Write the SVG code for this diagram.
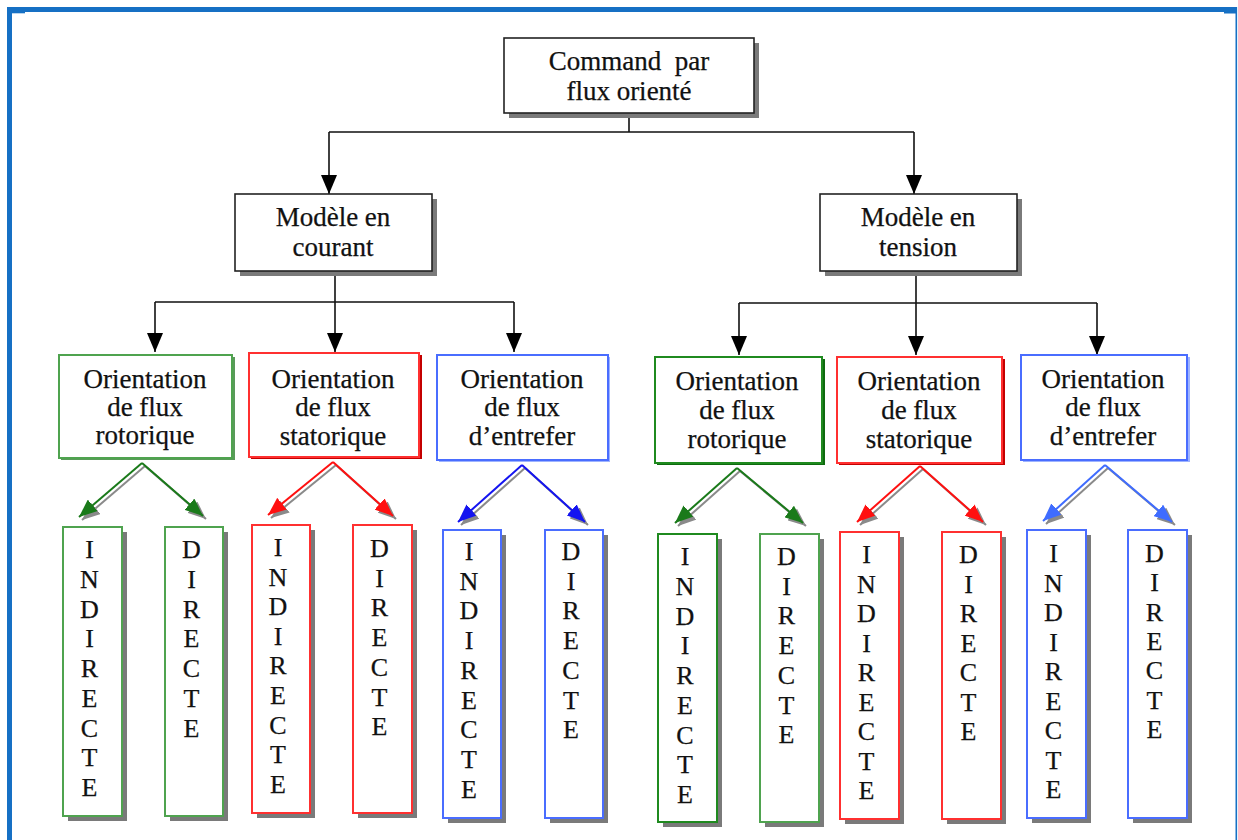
<svg xmlns="http://www.w3.org/2000/svg" width="1238" height="840" viewBox="0 0 1238 840">
  <style>
    .lbl { font-family: "Liberation Serif", "Times New Roman", serif; font-size: 27px; fill: #111; stroke: #111; stroke-width: 0.25; text-anchor: middle; white-space: pre; }
    .ltr { font-family: "Liberation Serif", "Times New Roman", serif; font-size: 26px; fill: #111; stroke: #111; stroke-width: 0.25; text-anchor: middle; }
    .box { fill: #fff; stroke: #222; stroke-width: 1.6; }
    .shadow { fill: #7a7a7a; }
    .tree { fill: none; stroke: #111; stroke-width: 1.6; }
    .g1 { fill: #fff; stroke: #4fa34f; stroke-width: 2; }
    .g2 { fill: #fff; stroke: #1f8a1f; stroke-width: 2; }
    .r { fill: #fff; stroke: #ff3030; stroke-width: 2; }
    .b { fill: #fff; stroke: #4a6dff; stroke-width: 2; }
    .sg1 { fill: #5a9a5a; }
    .sg2 { fill: #0f6a0f; }
    .sr { fill: #c40000; }
    .sb { fill: #9db3ff; }
  </style>
  <defs>
    <marker id="ah-black" markerUnits="userSpaceOnUse" markerWidth="19" markerHeight="16" refX="19" refY="8" orient="auto">
      <path d="M0,0 L19,8 L0,16 z" fill="#000"/>
    </marker>
    <marker id="ah-green" markerUnits="userSpaceOnUse" markerWidth="18" markerHeight="15" refX="18" refY="7.5" orient="auto">
      <path d="M0,0 L18,7.5 L0,15 z" fill="#1a7a1a"/>
    </marker>
    <marker id="ah-red" markerUnits="userSpaceOnUse" markerWidth="18" markerHeight="15" refX="18" refY="7.5" orient="auto">
      <path d="M0,0 L18,7.5 L0,15 z" fill="#ff1010"/>
    </marker>
    <marker id="ah-blue" markerUnits="userSpaceOnUse" markerWidth="18" markerHeight="15" refX="18" refY="7.5" orient="auto">
      <path d="M0,0 L18,7.5 L0,15 z" fill="#1414f0"/>
    </marker>
    <marker id="ah-blue2" markerUnits="userSpaceOnUse" markerWidth="18" markerHeight="15" refX="18" refY="7.5" orient="auto">
      <path d="M0,0 L18,7.5 L0,15 z" fill="#3f6cff"/>
    </marker>
    <marker id="ah-gray" markerUnits="userSpaceOnUse" markerWidth="18" markerHeight="15" refX="18" refY="7.5" orient="auto">
      <path d="M0,0 L18,7.5 L0,15 z" fill="#8a8a8a"/>
    </marker>
  </defs>

  <rect width="1238" height="840" fill="#fff"/>

  <!-- page frame -->
  <g id="frame" fill="#1670c4">
    <rect x="7" y="7" width="1230" height="5"/>
    <rect x="7" y="7" width="5" height="833"/>
    <rect x="1235.5" y="7" width="1.6" height="833"/>
    <rect x="12" y="12" width="13" height="1.3"/>
    <rect x="1224" y="12" width="12" height="1.5"/>
  </g>

  <!-- connectors -->
  <g id="connectors">
    <!-- black tree -->
    <g class="tree">
      <path d="M629,113 V132 M329,132 H914"/>
      <path d="M329,132 V194" marker-end="url(#ah-black)"/>
      <path d="M914,132 V194" marker-end="url(#ah-black)"/>
      <path d="M335,271 V302 M155,302 H514"/>
      <path d="M155,302 V352" marker-end="url(#ah-black)"/>
      <path d="M335,302 V352" marker-end="url(#ah-black)"/>
      <path d="M514,302 V352" marker-end="url(#ah-black)"/>
      <path d="M916,271 V303 M739,303 H1097"/>
      <path d="M739,303 V355" marker-end="url(#ah-black)"/>
      <path d="M916,303 V355" marker-end="url(#ah-black)"/>
      <path d="M1097,303 V355" marker-end="url(#ah-black)"/>
    </g>
    <!-- drop shadows of the coloured split arrows -->
    <g transform="translate(3,3)" fill="none" stroke="#8a8a8a" stroke-width="2">
      <path d="M142,463 L79,517" marker-end="url(#ah-gray)"/>
      <path d="M142,463 L203,516" marker-end="url(#ah-gray)"/>
      <path d="M333,462 L268,515" marker-end="url(#ah-gray)"/>
      <path d="M333,462 L393,516" marker-end="url(#ah-gray)"/>
      <path d="M522,465 L458,522" marker-end="url(#ah-gray)"/>
      <path d="M522,465 L585,522" marker-end="url(#ah-gray)"/>
      <path d="M737,468 L675,523" marker-end="url(#ah-gray)"/>
      <path d="M737,468 L803,523" marker-end="url(#ah-gray)"/>
      <path d="M920,466 L857,522" marker-end="url(#ah-gray)"/>
      <path d="M920,466 L983,522" marker-end="url(#ah-gray)"/>
      <path d="M1105,465 L1043,521" marker-end="url(#ah-gray)"/>
      <path d="M1105,465 L1172,522" marker-end="url(#ah-gray)"/>
    </g>
    <!-- coloured split arrows -->
    <g fill="none" stroke-width="2">
      <path d="M142,463 L79,517" stroke="#1a7a1a" marker-end="url(#ah-green)"/>
      <path d="M142,463 L203,516" stroke="#1a7a1a" marker-end="url(#ah-green)"/>
      <path d="M333,462 L268,515" stroke="#ff1010" marker-end="url(#ah-red)"/>
      <path d="M333,462 L393,516" stroke="#ff1010" marker-end="url(#ah-red)"/>
      <path d="M522,465 L458,522" stroke="#1414f0" marker-end="url(#ah-blue)"/>
      <path d="M522,465 L585,522" stroke="#1414f0" marker-end="url(#ah-blue)"/>
      <path d="M737,468 L675,523" stroke="#1a7a1a" marker-end="url(#ah-green)"/>
      <path d="M737,468 L803,523" stroke="#1a7a1a" marker-end="url(#ah-green)"/>
      <path d="M920,466 L857,522" stroke="#ff1010" marker-end="url(#ah-red)"/>
      <path d="M920,466 L983,522" stroke="#ff1010" marker-end="url(#ah-red)"/>
      <path d="M1105,465 L1043,521" stroke="#3f6cff" marker-end="url(#ah-blue2)"/>
      <path d="M1105,465 L1172,522" stroke="#3f6cff" marker-end="url(#ah-blue2)"/>
    </g>
  </g>

  <!-- level 1 -->
  <g id="root">
    <rect class="shadow" x="509" y="43" width="250" height="75"/>
    <rect class="box" x="504" y="38" width="250" height="75"/>
    <text class="lbl" x="629" y="70">Command  par</text>
    <text class="lbl" x="629" y="100">flux orienté</text>
  </g>

  <!-- level 2 -->
  <g id="modele-courant">
    <rect class="shadow" x="240" y="199" width="197" height="77"/>
    <rect class="box" x="235" y="194" width="197" height="77"/>
    <text class="lbl" x="333" y="226">Modèle en</text>
    <text class="lbl" x="333" y="256">courant</text>
  </g>
  <g id="modele-tension">
    <rect class="shadow" x="825" y="199" width="197" height="77"/>
    <rect class="box" x="820" y="194" width="197" height="77"/>
    <text class="lbl" x="918" y="226">Modèle en</text>
    <text class="lbl" x="918" y="256">tension</text>
  </g>

  <!-- level 3, current model -->
  <g id="courant-rotorique">
    <rect class="sg1" x="61" y="357" width="174" height="103"/>
    <rect class="g1" x="59" y="355" width="173" height="103"/>
    <text class="lbl" x="145" y="388">Orientation</text>
    <text class="lbl" x="145" y="416">de flux</text>
    <text class="lbl" x="145" y="444">rotorique</text>
  </g>
  <g id="courant-statorique">
    <rect class="sr" x="251" y="355" width="171" height="104"/>
    <rect class="r" x="249" y="353" width="170" height="104"/>
    <text class="lbl" x="333" y="388">Orientation</text>
    <text class="lbl" x="333" y="416">de flux</text>
    <text class="lbl" x="333" y="445">statorique</text>
  </g>
  <g id="courant-entrefer">
    <rect class="sb" x="439" y="357" width="171" height="105"/>
    <rect class="b" x="437" y="355" width="171" height="105"/>
    <text class="lbl" x="522" y="388">Orientation</text>
    <text class="lbl" x="522" y="416">de flux</text>
    <text class="lbl" x="522" y="445">d’entrefer</text>
  </g>

  <!-- level 3, voltage model -->
  <g id="tension-rotorique">
    <rect class="sg2" x="657" y="359" width="168" height="106"/>
    <rect class="g2" x="655" y="357" width="167" height="106"/>
    <text class="lbl" x="737" y="390">Orientation</text>
    <text class="lbl" x="737" y="419">de flux</text>
    <text class="lbl" x="737" y="448">rotorique</text>
  </g>
  <g id="tension-statorique">
    <rect class="sr" x="839" y="359" width="166" height="106"/>
    <rect class="r" x="837" y="357" width="165" height="106"/>
    <text class="lbl" x="919" y="390">Orientation</text>
    <text class="lbl" x="919" y="419">de flux</text>
    <text class="lbl" x="919" y="448">statorique</text>
  </g>
  <g id="tension-entrefer">
    <rect class="sb" x="1023" y="357" width="167" height="105"/>
    <rect class="b" x="1021" y="355" width="166" height="105"/>
    <text class="lbl" x="1103" y="388">Orientation</text>
    <text class="lbl" x="1103" y="416">de flux</text>
    <text class="lbl" x="1103" y="445">d’entrefer</text>
  </g>

  <!-- level 4: vertical labels -->
  <g id="cr-indirecte">
    <rect class="shadow" x="68" y="532" width="59" height="289"/>
    <rect class="g1" x="63" y="527" width="59" height="289"/>
    <text class="ltr" x="89.5" y="558"><tspan x="89.5">I</tspan><tspan x="89.5" dy="29.75">N</tspan><tspan x="89.5" dy="29.75">D</tspan><tspan x="89.5" dy="29.75">I</tspan><tspan x="89.5" dy="29.75">R</tspan><tspan x="89.5" dy="29.75">E</tspan><tspan x="89.5" dy="29.75">C</tspan><tspan x="89.5" dy="29.75">T</tspan><tspan x="89.5" dy="29.75">E</tspan></text>
  </g>
  <g id="cr-directe">
    <rect class="shadow" x="170" y="532" width="58" height="289"/>
    <rect class="g1" x="165" y="527" width="58" height="289"/>
    <text class="ltr" x="191.5" y="558"><tspan x="191.5">D</tspan><tspan x="191.5" dy="29.75">I</tspan><tspan x="191.5" dy="29.75">R</tspan><tspan x="191.5" dy="29.75">E</tspan><tspan x="191.5" dy="29.75">C</tspan><tspan x="191.5" dy="29.75">T</tspan><tspan x="191.5" dy="29.75">E</tspan></text>
  </g>
  <g id="cs-indirecte">
    <rect class="shadow" x="257" y="530" width="58" height="288"/>
    <rect class="r" x="252" y="525" width="58" height="288"/>
    <text class="ltr" x="278" y="556"><tspan x="278">I</tspan><tspan x="278" dy="29.6">N</tspan><tspan x="278" dy="29.6">D</tspan><tspan x="278" dy="29.6">I</tspan><tspan x="278" dy="29.6">R</tspan><tspan x="278" dy="29.6">E</tspan><tspan x="278" dy="29.6">C</tspan><tspan x="278" dy="29.6">T</tspan><tspan x="278" dy="29.6">E</tspan></text>
  </g>
  <g id="cs-directe">
    <rect class="shadow" x="358" y="530" width="59" height="288"/>
    <rect class="r" x="353" y="525" width="59" height="288"/>
    <text class="ltr" x="379.5" y="557"><tspan x="379.5">D</tspan><tspan x="379.5" dy="29.7">I</tspan><tspan x="379.5" dy="29.7">R</tspan><tspan x="379.5" dy="29.7">E</tspan><tspan x="379.5" dy="29.7">C</tspan><tspan x="379.5" dy="29.7">T</tspan><tspan x="379.5" dy="29.7">E</tspan></text>
  </g>
  <g id="ce-indirecte">
    <rect class="shadow" x="448" y="535" width="58" height="288"/>
    <rect class="b" x="443" y="530" width="58" height="288"/>
    <text class="ltr" x="469" y="560"><tspan x="469">I</tspan><tspan x="469" dy="29.7">N</tspan><tspan x="469" dy="29.7">D</tspan><tspan x="469" dy="29.7">I</tspan><tspan x="469" dy="29.7">R</tspan><tspan x="469" dy="29.7">E</tspan><tspan x="469" dy="29.7">C</tspan><tspan x="469" dy="29.7">T</tspan><tspan x="469" dy="29.7">E</tspan></text>
  </g>
  <g id="ce-directe">
    <rect class="shadow" x="550" y="535" width="58" height="288"/>
    <rect class="b" x="545" y="530" width="58" height="288"/>
    <text class="ltr" x="571" y="560"><tspan x="571">D</tspan><tspan x="571" dy="29.7">I</tspan><tspan x="571" dy="29.7">R</tspan><tspan x="571" dy="29.7">E</tspan><tspan x="571" dy="29.7">C</tspan><tspan x="571" dy="29.7">T</tspan><tspan x="571" dy="29.7">E</tspan></text>
  </g>

  <g id="tr-indirecte">
    <rect class="shadow" x="663" y="539" width="59" height="288"/>
    <rect class="g2" x="658" y="534" width="59" height="288"/>
    <text class="ltr" x="685" y="565"><tspan x="685">I</tspan><tspan x="685" dy="29.75">N</tspan><tspan x="685" dy="29.75">D</tspan><tspan x="685" dy="29.75">I</tspan><tspan x="685" dy="29.75">R</tspan><tspan x="685" dy="29.75">E</tspan><tspan x="685" dy="29.75">C</tspan><tspan x="685" dy="29.75">T</tspan><tspan x="685" dy="29.75">E</tspan></text>
  </g>
  <g id="tr-directe">
    <rect class="shadow" x="765" y="539" width="59" height="288"/>
    <rect class="g1" x="760" y="534" width="59" height="288"/>
    <text class="ltr" x="786.5" y="565"><tspan x="786.5">D</tspan><tspan x="786.5" dy="29.7">I</tspan><tspan x="786.5" dy="29.7">R</tspan><tspan x="786.5" dy="29.7">E</tspan><tspan x="786.5" dy="29.7">C</tspan><tspan x="786.5" dy="29.7">T</tspan><tspan x="786.5" dy="29.7">E</tspan></text>
  </g>
  <g id="ts-indirecte">
    <rect class="shadow" x="845" y="537" width="59" height="287"/>
    <rect class="r" x="840" y="532" width="59" height="287"/>
    <text class="ltr" x="866.5" y="563"><tspan x="866.5">I</tspan><tspan x="866.5" dy="29.5">N</tspan><tspan x="866.5" dy="29.5">D</tspan><tspan x="866.5" dy="29.5">I</tspan><tspan x="866.5" dy="29.5">R</tspan><tspan x="866.5" dy="29.5">E</tspan><tspan x="866.5" dy="29.5">C</tspan><tspan x="866.5" dy="29.5">T</tspan><tspan x="866.5" dy="29.5">E</tspan></text>
  </g>
  <g id="ts-directe">
    <rect class="shadow" x="947" y="537" width="59" height="287"/>
    <rect class="r" x="942" y="532" width="59" height="287"/>
    <text class="ltr" x="968.5" y="563"><tspan x="968.5">D</tspan><tspan x="968.5" dy="29.5">I</tspan><tspan x="968.5" dy="29.5">R</tspan><tspan x="968.5" dy="29.5">E</tspan><tspan x="968.5" dy="29.5">C</tspan><tspan x="968.5" dy="29.5">T</tspan><tspan x="968.5" dy="29.5">E</tspan></text>
  </g>
  <g id="te-indirecte">
    <rect class="shadow" x="1032" y="535" width="59" height="288"/>
    <rect class="b" x="1027" y="530" width="59" height="288"/>
    <text class="ltr" x="1053.5" y="562"><tspan x="1053.5">I</tspan><tspan x="1053.5" dy="29.5">N</tspan><tspan x="1053.5" dy="29.5">D</tspan><tspan x="1053.5" dy="29.5">I</tspan><tspan x="1053.5" dy="29.5">R</tspan><tspan x="1053.5" dy="29.5">E</tspan><tspan x="1053.5" dy="29.5">C</tspan><tspan x="1053.5" dy="29.5">T</tspan><tspan x="1053.5" dy="29.5">E</tspan></text>
  </g>
  <g id="te-directe">
    <rect class="shadow" x="1133" y="535" width="59" height="288"/>
    <rect class="b" x="1128" y="530" width="59" height="288"/>
    <text class="ltr" x="1154.5" y="562"><tspan x="1154.5">D</tspan><tspan x="1154.5" dy="29.3">I</tspan><tspan x="1154.5" dy="29.3">R</tspan><tspan x="1154.5" dy="29.3">E</tspan><tspan x="1154.5" dy="29.3">C</tspan><tspan x="1154.5" dy="29.3">T</tspan><tspan x="1154.5" dy="29.3">E</tspan></text>
  </g>
</svg>
